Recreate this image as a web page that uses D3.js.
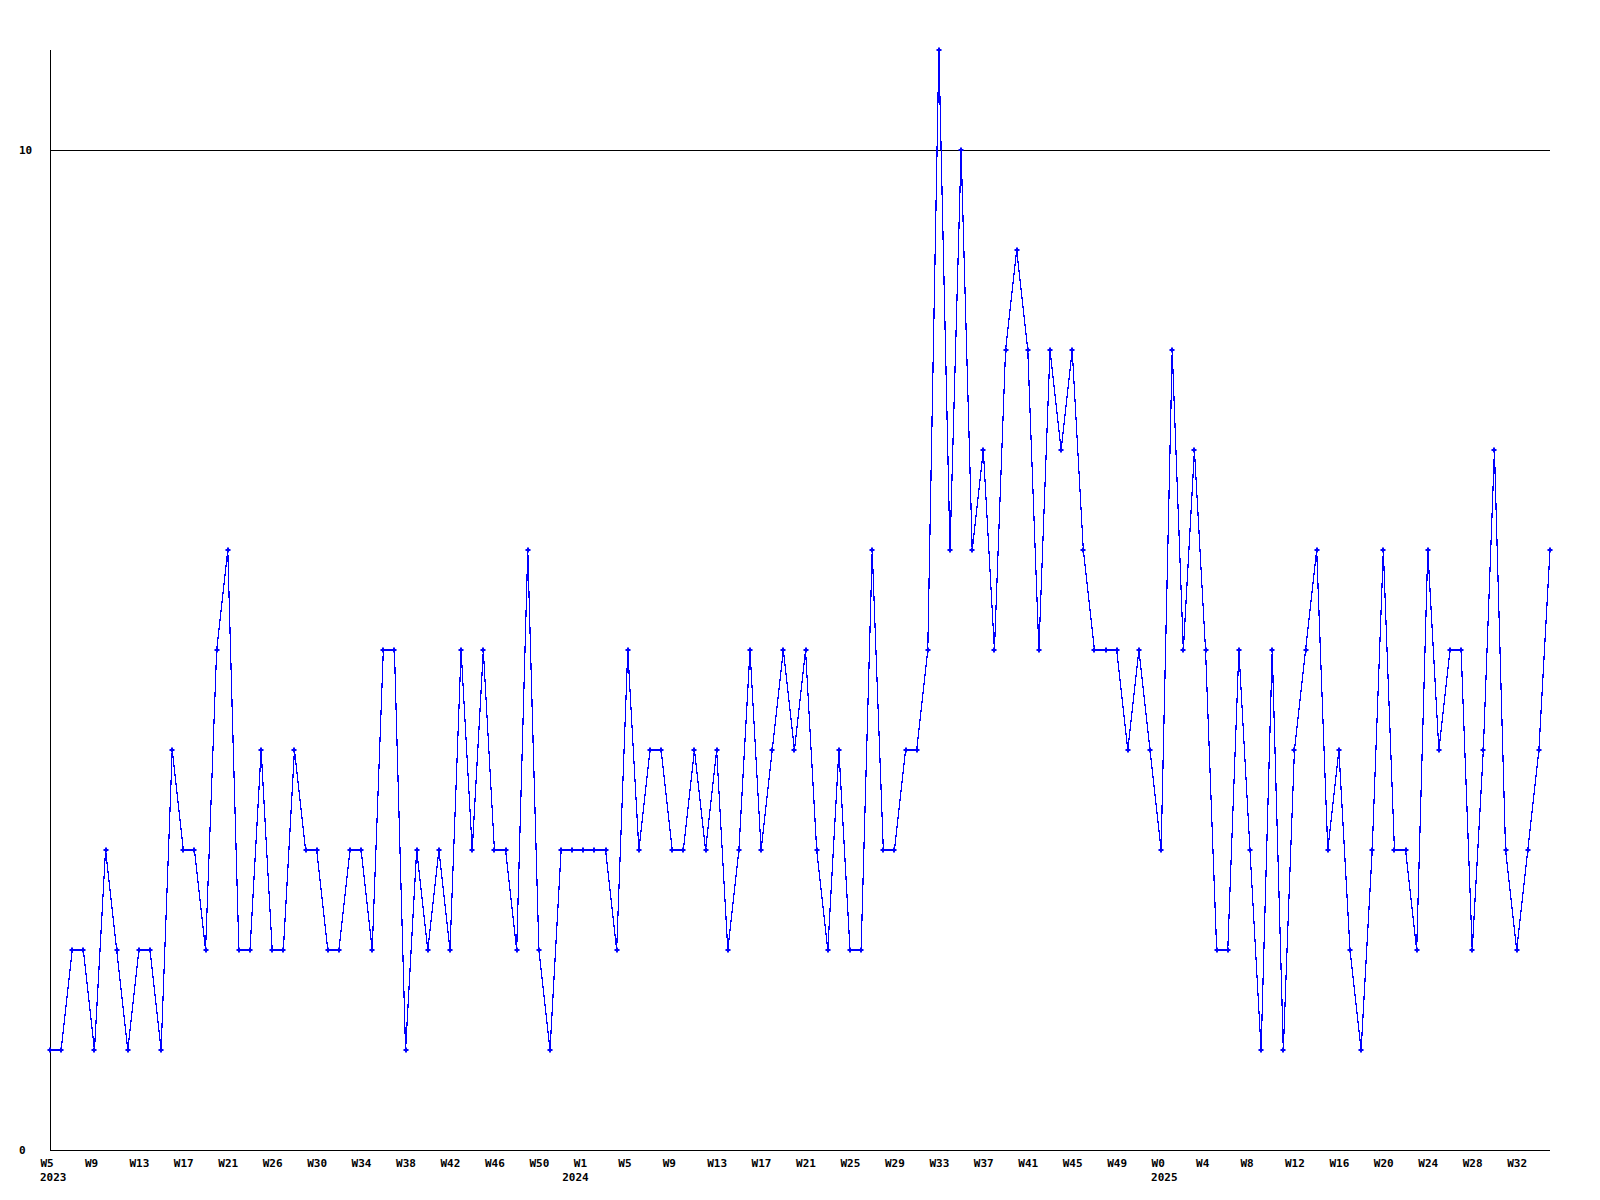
<!DOCTYPE html>
<html>
<head>
<meta charset="utf-8">
<script src="https://cdn.jsdelivr.net/npm/d3@7"></script>
<style>
  html, body { margin: 0; padding: 0; background: #fff; }
  svg { display: block; }
  text { font-family: "DejaVu Sans Mono", "Liberation Mono", monospace; font-weight: bold; font-size: 11px; fill: #000; }
</style>
</head>
<body>
<svg id="chart" width="1600" height="1200"></svg>
<script>
// ---- data ----
const years = ["2023", "2024", "2025"];
const weeks = [
  5,6,7,8,9,10,11,12,13,14,15,16,17,18,19,20,21,22,23,24,
  26,27,28,29,30,31,32,33,34,35,36,37,38,39,40,41,42,43,44,45,46,47,48,49,50,51,52,
  0,1,2,3,4,5,6,7,8,9,10,11,12,13,14,15,16,17,18,19,20,21,22,23,24,25,26,27,28,29,30,
  31,32,33,34,35,36,37,38,39,40,41,42,43,44,45,46,47,48,49,50,51,52,
  0,1,2,3,4,5,6,7,8,9,10,11,12,13,14,15,16,17,18,19,20,21,22,23,24,25,26,27,28,29,30,
  31,32,33,34,35
];
const values = [
  1,1,2,2,1,3,2,1,2,2,
  1,4,3,3,2,5,6,2,2,4,
  2,2,4,3,3,2,2,3,3,2,
  5,5,1,3,2,3,2,5,3,5,
  3,3,2,6,2,1,3,3,3,3,
  3,2,5,3,4,4,3,3,4,3,
  4,2,3,5,3,4,5,4,5,3,
  2,4,2,2,6,3,3,4,4,5,
  11,6,10,6,7,5,8,9,8,5,
  8,7,8,6,5,5,5,4,5,4,
  3,8,5,7,5,2,2,5,3,1,
  5,1,4,5,6,3,4,2,1,3,
  6,3,3,2,6,4,5,5,2,4,
  7,3,2,3,4,6
];
const yTicks = [0, 10];
const tickEvery = 4;

(function () {
  // ---- year of each point (year changes when week number drops) ----
  const pointYear = [];
  let yi = 0;
  weeks.forEach((w, i) => { if (i > 0 && w < weeks[i - 1]) yi++; pointYear.push(years[yi]); });

  const svg = d3.select("#chart");
  const mLeft = 50, mRight = 1550, mTop = 50, mBottom = 1150;

  const x = d3.scaleLinear().domain([0, values.length - 1]).range([mLeft, mRight]);
  const y = d3.scaleLinear().domain([0, 11]).range([mBottom, mTop]);

  // grid line at 10
  svg.append("g").selectAll("line")
    .data(yTicks.filter(d => d > 0))
    .join("line")
    .attr("x1", mLeft).attr("x2", mRight)
    .attr("y1", d => Math.round(y(d)) + 0.5).attr("y2", d => Math.round(y(d)) + 0.5)
    .attr("stroke", "#000").attr("stroke-width", 1).attr("shape-rendering", "crispEdges");

  // axis lines
  svg.append("line")
    .attr("x1", mLeft + 0.5).attr("x2", mLeft + 0.5)
    .attr("y1", mTop).attr("y2", mBottom + 0.5)
    .attr("stroke", "#000").attr("shape-rendering", "crispEdges");
  svg.append("line")
    .attr("x1", mLeft).attr("x2", mRight)
    .attr("y1", mBottom + 0.5).attr("y2", mBottom + 0.5)
    .attr("stroke", "#000").attr("shape-rendering", "crispEdges");

  // y tick labels
  svg.append("g").selectAll("text")
    .data(yTicks)
    .join("text")
    .attr("x", 19)
    .attr("y", d => y(d) + 4)
    .attr("text-anchor", "start")
    .text(d => d);

  // x tick labels via axis
  const tickIdx = d3.range(0, values.length, tickEvery);
  const xAxis = d3.axisBottom(x)
    .tickValues(tickIdx)
    .tickSize(0)
    .tickPadding(0)
    .tickFormat(i => "W" + weeks[i]);
  const gx = svg.append("g")
    .attr("transform", `translate(0,${mBottom})`)
    .call(xAxis);
  gx.select(".domain").remove();
  gx.selectAll(".tick text")
    .attr("text-anchor", "start")
    .attr("x", -10)
    .attr("dy", null)
    .attr("y", 17)
    .style("font-family", '"DejaVu Sans Mono", monospace')
    .style("font-weight", "bold")
    .style("font-size", "11px")
    .attr("fill", "#000");

  // year labels at the first point of each year
  const yearStarts = d3.range(values.length).filter(i => i === 0 || pointYear[i] !== pointYear[i - 1]);
  svg.append("g").selectAll("text")
    .data(yearStarts)
    .join("text")
    .attr("x", i => x(i) - 10)
    .attr("y", mBottom + 31)
    .text(i => pointYear[i]);

  // line
  const line = d3.line().x((d, i) => x(i)).y(d => y(d));
  svg.append("path")
    .datum(values)
    .attr("d", line)
    .attr("fill", "none")
    .attr("stroke", "#0000ff")
    .attr("stroke-width", 1.2)
    .attr("shape-rendering", "crispEdges");

  // markers (small crosses)
  svg.append("g").selectAll("path")
    .data(values)
    .join("path")
    .attr("d", (d, i) => {
      const cx = Math.round(x(i)), cy = Math.round(y(d));
      return `M${cx - 2.5},${cy}H${cx + 2.5}M${cx},${cy - 2.5}V${cy + 2.5}`;
    })
    .attr("stroke", "#0000ff")
    .attr("stroke-width", 2)
    .attr("fill", "none");
})();
</script>
</body>
</html>
